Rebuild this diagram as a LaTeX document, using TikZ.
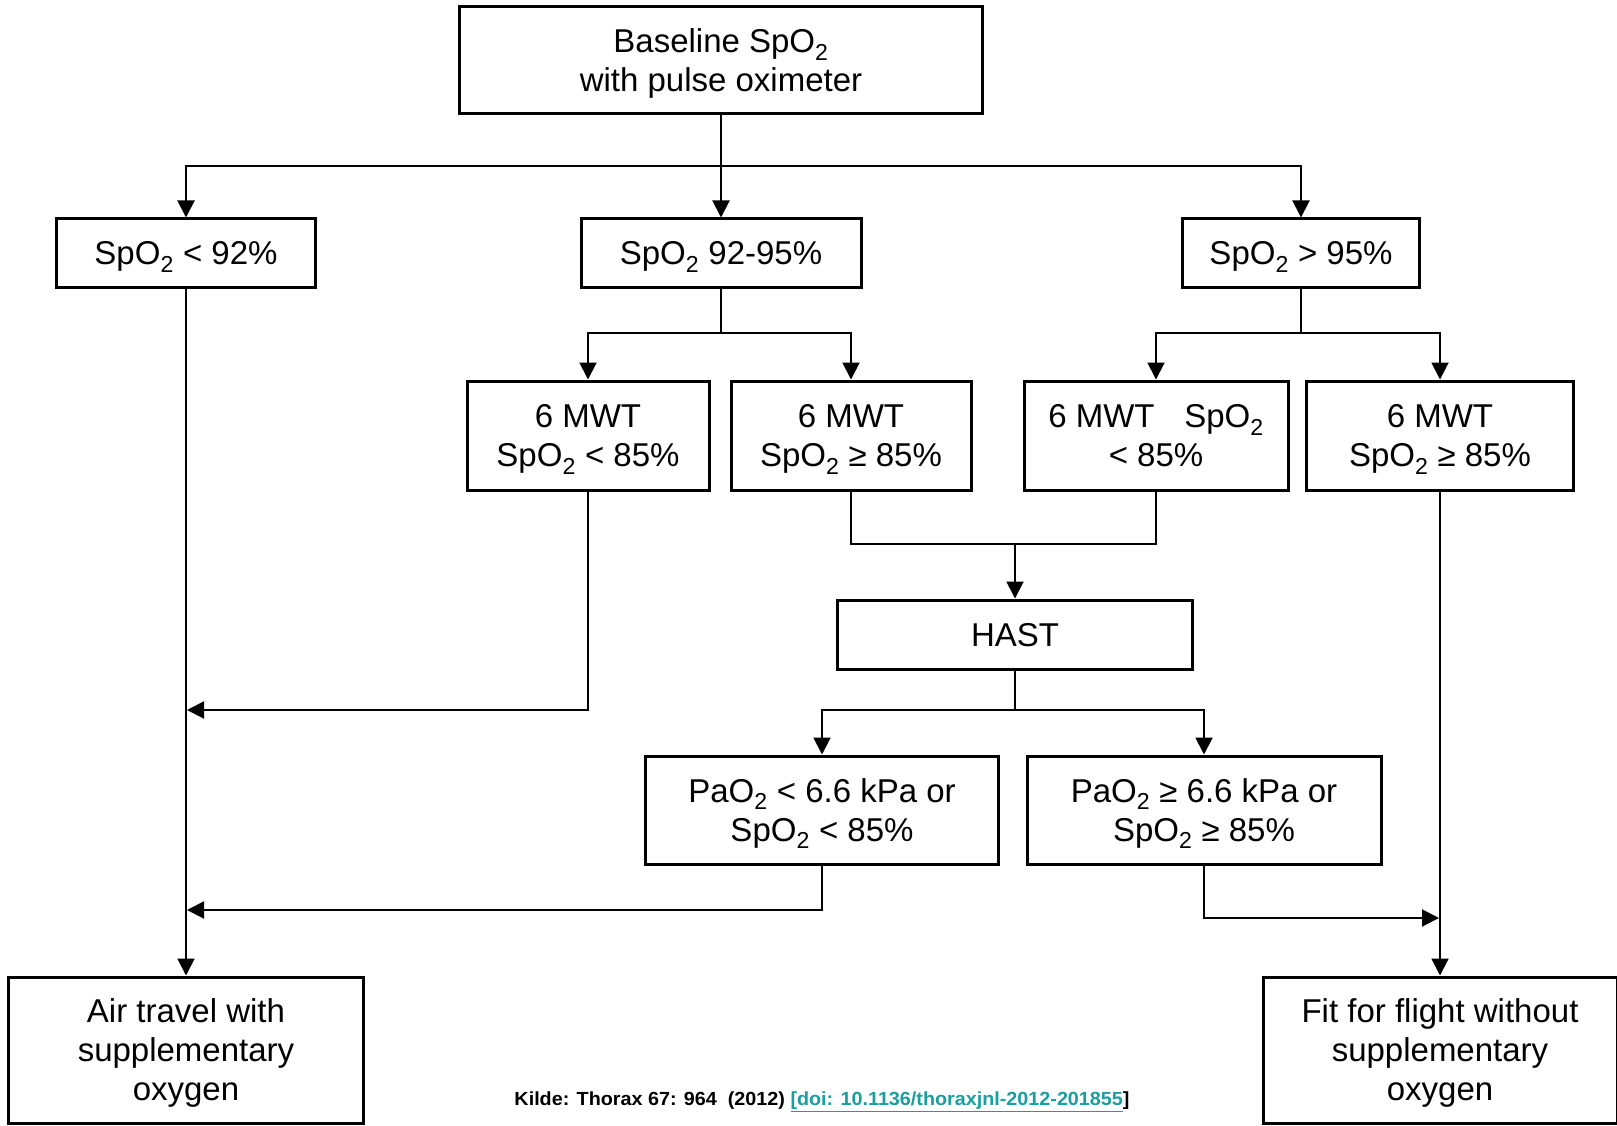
\documentclass[tikz,border=0pt]{standalone}
\usepackage{fontspec}
\setmainfont{Liberation Sans}
\usetikzlibrary{arrows.meta}
\definecolor{doiteal}{HTML}{1A9E9E}
\newcommand{\Otwo}{O\textsubscript{2}}
\newcommand{\tS}{\rule{0pt}{32pt}}
\newcommand{\bS}{\rule[-9pt]{0pt}{0pt}}
\tikzset{
  boxm/.style={draw, line width=3pt, align=center, inner sep=0pt,
    font=\fontsize{33}{39}\selectfont},
  box/.style={boxm,
    execute at begin node={\tS},
    execute at end node={\bS}},
  conn/.style={line width=2pt},
  arr/.style={line width=2pt, -{Triangle[length=17pt,width=17pt]}},
}
\begin{document}
\begin{tikzpicture}[x=1pt,y=-1pt]
\useasboundingbox (0,0) rectangle (1617,1126);
\fill[white] (0,0) rectangle (1617,1126);
% boxes
\node[boxm, minimum width=523pt, minimum height=107pt] (top) at (721,60.5) {\tS Baseline Sp\Otwo\\with pulse oximeter\bS};
\node[box, minimum width=259pt, minimum height=68pt] (lo) at (186,253) {Sp\Otwo{} < 92\%};
\node[box, minimum width=280pt, minimum height=68pt] (mid) at (721,253) {Sp\Otwo{} 92-95\%};
\node[box, minimum width=237pt, minimum height=68pt] (hi) at (1301,253) {Sp\Otwo{} > 95\%};
\node[boxm, minimum width=242pt, minimum height=109pt] (ma) at (588,435.5) {\tS 6 MWT\\Sp\Otwo{} < 85\%\bS};
\node[boxm, minimum width=240pt, minimum height=109pt] (mb) at (851,435.5) {\tS 6 MWT\\Sp\Otwo{} ≥ 85\%\bS};
\node[boxm, minimum width=264pt, minimum height=109pt] (mc) at (1156,435.5) {\tS 6 MWT\hspace{0.9em}Sp\Otwo\\< 85\%\bS};
\node[boxm, minimum width=267pt, minimum height=109pt] (md) at (1440,435.5) {\tS 6 MWT\\Sp\Otwo{} ≥ 85\%\bS};
\node[box, minimum width=355pt, minimum height=69pt] (hast) at (1015,634.5) {HAST};
\node[boxm, minimum width=353pt, minimum height=108pt] (pe) at (822,810) {\tS Pa\Otwo{} < 6.6 kPa or\\Sp\Otwo{} < 85\%\bS};
\node[boxm, minimum width=354pt, minimum height=108pt] (pf) at (1204,810) {\tS Pa\Otwo{} ≥ 6.6 kPa or\\Sp\Otwo{} ≥ 85\%\bS};
\node[boxm, minimum width=355pt, minimum height=146pt] (air) at (186,1050) {\tS Air travel with\\supplementary\\oxygen\bS};
\node[boxm, minimum width=354pt, minimum height=146pt] (fit) at (1440,1050) {\tS Fit for flight without\\supplementary\\oxygen\bS};
% junction coordinates
\coordinate (j1) at (721,166);
\coordinate (j2) at (721,333);
\coordinate (j3) at (1301,333);
\coordinate (j4) at (1015,544);
\coordinate (j5) at (1015,710);
\coordinate (la) at (187,710);
\coordinate (le) at (187,910);
\coordinate (rf) at (1439,918);
% connectors
\draw[conn] (top.south) -- (j1);
\draw[arr] (j1) -| (lo.north);
\draw[arr] (j1) -- (mid.north);
\draw[arr] (j1) -| (hi.north);
\draw[conn] (mid.south) -- (j2);
\draw[arr] (j2) -| (ma.north);
\draw[arr] (j2) -| (mb.north);
\draw[conn] (hi.south) -- (j3);
\draw[arr] (j3) -| (mc.north);
\draw[arr] (j3) -| (md.north);
\draw[conn] (mb.south) |- (j4);
\draw[conn] (mc.south) |- (j4);
\draw[arr] (j4) -- (hast.north);
\draw[conn] (hast.south) -- (j5);
\draw[arr] (j5) -| (pe.north);
\draw[arr] (j5) -| (pf.north);
\draw[arr] (ma.south) |- (la);
\draw[arr] (pe.south) |- (le);
\draw[arr] (pf.south) |- (rf);
\draw[arr] (lo.south) -- (air.north);
\draw[arr] (md.south) -- (fit.north);
% citation
\node[font=\bfseries\fontsize{19}{22}\selectfont, inner sep=0pt] (cite) at (822,1102)
  {\scalebox{1.04}[1]{Kilde: Thorax 67: 964\ \ (2012) \textcolor{doiteal}{\underline{[doi: 10.1136/thoraxjnl-2012-201855}}]}};
\end{tikzpicture}
\end{document}
